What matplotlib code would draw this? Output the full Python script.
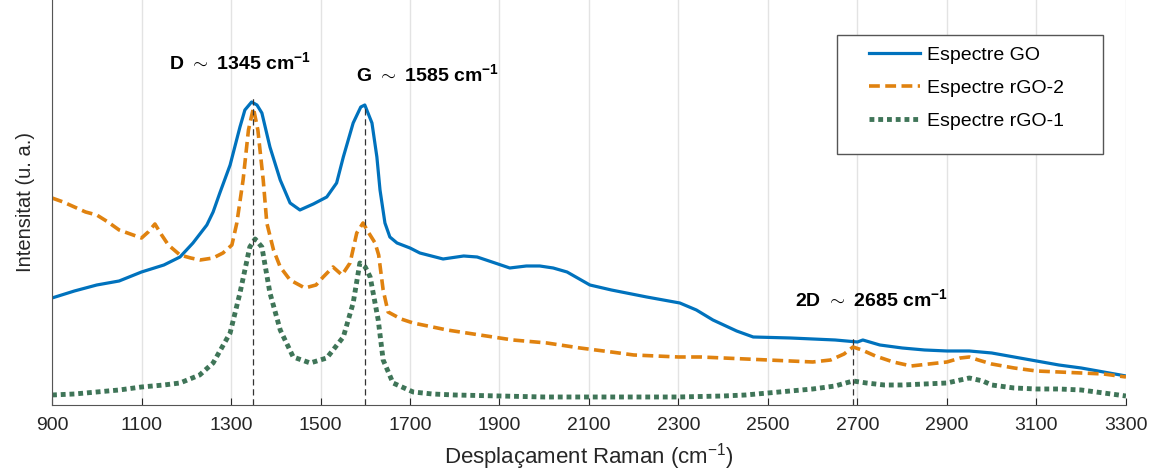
import matplotlib
matplotlib.use("Agg")
import matplotlib.pyplot as plt
from matplotlib.patches import Rectangle

plt.rcParams['font.family'] = ['Liberation Sans', 'DejaVu Sans']
plt.rcParams['mathtext.fontset'] = 'custom'
plt.rcParams['mathtext.rm'] = 'Liberation Sans'
plt.rcParams['mathtext.bf'] = 'Liberation Sans:bold'

# Dades llegides del gràfic (intensitat en unitats arbitràries)
x_go = [900, 950, 1000, 1050, 1100, 1150, 1186, 1215, 1246, 1260, 1275, 1298, 1320, 1331, 1346,
        1358, 1369, 1387, 1410, 1432, 1454, 1484, 1514, 1536, 1551, 1573, 1590, 1599, 1615, 1626,
        1633, 1644, 1655, 1671, 1700, 1722, 1774, 1820, 1850, 1890, 1923, 1960, 1990, 2020, 2051,
        2102, 2150, 2229, 2303, 2340, 2377, 2430, 2467, 2550, 2600, 2650, 2700, 2712, 2750, 2800,
        2850, 2900, 2950, 3000, 3050, 3100, 3150, 3200, 3250, 3300]
y_go = [107, 114, 120, 124, 133, 140, 148, 162, 180, 193, 212, 240, 278, 295, 303,
        300, 292, 258, 225, 202, 195, 201, 208, 222, 248, 282, 298, 300, 282, 248,
        215, 182, 168, 162, 157, 152, 146, 149, 148, 142, 137, 139, 139, 137, 133,
        120, 115, 108, 102, 95, 85, 74, 68, 67, 66, 65, 63, 65, 60, 57,
        55, 54, 54, 52, 48, 44, 40, 37, 33, 29]

x_rgo2 = [900, 925, 950, 975, 1000, 1025, 1050, 1075, 1100, 1115, 1130, 1145, 1160, 1186, 1210,
          1231, 1260, 1282, 1302, 1313, 1327, 1339, 1350, 1360, 1372, 1380, 1395, 1410, 1432, 1465,
          1490, 1506, 1528, 1548, 1566, 1581, 1595, 1608, 1622, 1630, 1640, 1651, 1680, 1707, 1783,
          1856, 1930, 2006, 2080, 2150, 2200, 2250, 2300, 2350, 2400, 2450, 2500, 2550, 2600, 2640,
          2670, 2690, 2710, 2740, 2780, 2820, 2860, 2900, 2930, 2950, 2970, 3000, 3050, 3100, 3150,
          3200, 3250, 3300]
y_rgo2 = [207, 203, 198, 193, 190, 183, 175, 171, 167, 173, 181, 170, 160, 150, 147,
          145, 147, 152, 160, 182, 225, 275, 297, 275, 225, 182, 155, 138, 125, 117,
          120, 128, 138, 130, 142, 172, 182, 172, 162, 150, 115, 93, 86, 82, 75,
          70, 65, 62, 57, 53, 50, 49, 48, 48, 47, 46, 45, 44, 43, 45,
          51, 58, 55, 49, 43, 39, 41, 43, 47, 48, 45, 41, 37, 34, 33,
          32, 31, 28]

x_rgo1 = [900, 950, 1000, 1050, 1100, 1150, 1186, 1230, 1260, 1298, 1320, 1342, 1354, 1369, 1387,
          1410, 1439, 1477, 1514, 1551, 1573, 1588, 1600, 1611, 1629, 1640, 1662, 1707, 1750, 1800,
          1900, 2000, 2100, 2200, 2300, 2400, 2450, 2500, 2550, 2600, 2650, 2690, 2720, 2760, 2800,
          2850, 2900, 2930, 2950, 2980, 3000, 3050, 3100, 3150, 3200, 3250, 3300]
y_rgo1 = [10, 11, 13, 15, 18, 20, 22, 30, 42, 72, 112, 158, 166, 158, 112,
          75, 48, 42, 47, 68, 102, 142, 138, 128, 85, 45, 22, 13, 11, 10,
          9, 8, 8, 8, 8, 9, 10, 12, 14, 16, 19, 24, 22, 20, 20,
          21, 22, 25, 27, 24, 20, 17, 16, 16, 15, 12, 9]

pic_x = [1350, 1600, 2690]
pic_top = [310, 300, 70]
etiquetes = [r'D $\sim$ 1345 cm$^{\mathbf{-1}}$', r'G $\sim$ 1585 cm$^{\mathbf{-1}}$',
             r'2D $\sim$ 2685 cm$^{\mathbf{-1}}$']
etiq_x = [1320, 1740, 2732]
etiq_y = [342, 330, 105]

fig = plt.figure(figsize=(11.56, 4.74), dpi=100)
ax = fig.add_axes([0.045, 0.1456, 0.929, 0.8544])

ax.plot(x_go, y_go, color='#0072BD', lw=2.3, label='Espectre GO')
ax.plot(x_rgo2, y_rgo2, color='#E0820F', lw=2.6, ls=(0, (3, 1.5)), label='Espectre rGO-2')
ax.plot(x_rgo1, y_rgo1, color='#3F7558', lw=3.5, ls=(0, (1.0, 0.8)), label='Espectre rGO-1')

ax.vlines(pic_x, 0, pic_top, colors='#333333', linestyles=(0, (5, 3)), lw=0.9)
for t, xx, yy in zip(etiquetes, etiq_x, etiq_y):
    ax.text(xx, yy, t, ha='center', va='center', fontsize=14, fontweight='bold')

ax.set_xlim(900, 3300)
ax.set_ylim(0, 405)
ax.set_xticks(range(900, 3301, 200))
ax.set_yticks([])
ax.grid(True, axis='x', color='#e3e3e3', lw=1)
ax.set_axisbelow(True)
ax.tick_params(axis='x', direction='in', length=5, labelsize=14, colors='#262626', pad=9)
for s in ['top', 'right']:
    ax.spines[s].set_visible(False)
for s in ['left', 'bottom']:
    ax.spines[s].set_color('#555555')

ax.set_xlabel('Desplaçament Raman (cm$^{-1}$)', fontsize=16, color='#262626', labelpad=5)
ax.set_ylabel('Intensitat (u. a.)', fontsize=14.5, color='#262626', labelpad=12)

# Caixa de la llegenda
caixa = Rectangle((0.724, 0.675), 0.230, 0.251, transform=fig.transFigure, facecolor='white',
                  edgecolor='#555555', lw=1, zorder=4, clip_on=False)
ax.add_patch(caixa)
leg = ax.legend(loc='upper left', bbox_to_anchor=(0.7517, 0.903), bbox_transform=fig.transFigure,
                fontsize=14, frameon=False, labelspacing=0.8, handlelength=2.6,
                handletextpad=0.4, borderpad=0, borderaxespad=0)
leg.set_zorder(5)

plt.savefig('out.png', dpi=100)
